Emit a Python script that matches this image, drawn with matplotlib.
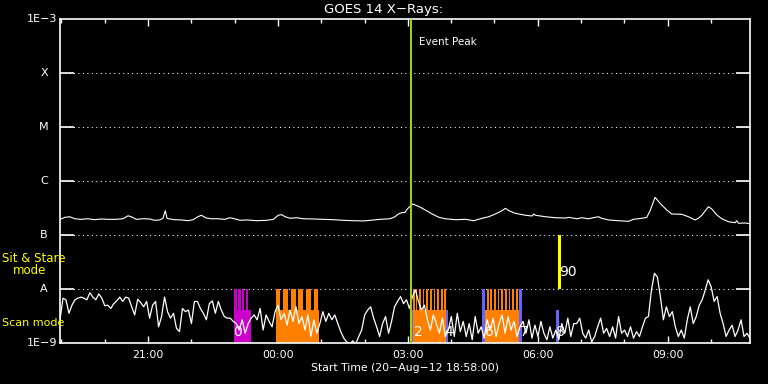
import numpy as np
import matplotlib
matplotlib.use('Agg')
import matplotlib.pyplot as plt
from matplotlib.ticker import NullLocator

# time axis: minutes after start (20-Aug-12 18:58:00)
t_end = 956
major_t = [122, 302, 482, 662, 842]
major_lbl = ['21:00', '00:00', '03:00', '06:00', '09:00']
minor_t = [2, 62, 182, 242, 362, 422, 542, 602, 722, 782, 902]

# GOES class levels
levels = [1e-8, 1e-7, 1e-6, 1e-5, 1e-4]
level_lbl = ['A', 'B', 'C', 'M', 'X']

# 1-8 A channel (units of 1e-7 W/m2)
long_t = [0, 6.5, 13.4, 20.4, 29.5, 38.8, 48.1, 57.2, 66.5, 78, 87.3, 94.2, 98.8, 105.7,
          115, 124.3, 131.2, 138.2, 142.7, 145.9, 148.3, 152, 158.9, 168.1, 177.4, 184.3,
          191.2, 195.8, 202.7, 209.7, 218.9, 228.2, 235.6, 244.9, 249.4, 258.7, 272.6,
          286.4, 295.6, 302.5, 307.2, 311.8, 318.7, 328, 337.1, 351, 364.9, 378.7, 392.6,
          406.4, 420.3, 429.6, 443.4, 457.3, 464.2, 468.8, 473.5, 478.1, 480.8, 485.4,
          488.7, 492.3, 499.3, 506.2, 515.5, 524.8, 533.9, 547.8, 561.6, 573.3, 584.8,
          594.1, 603.2, 612.5, 617.1, 621.8, 630.9, 644.8, 654.1, 656.4, 658.6, 672.5,
          686.3, 700.2, 704.9, 716.4, 722.9, 732.1, 741.3, 746, 750.6, 759.8, 773.6,
          787.5, 794.4, 806, 812.9, 817.6, 824.5, 831.4, 840.7, 847.6, 861.5, 870.6,
          879.9, 884.5, 889.2, 898.4, 903.1, 910, 916.9, 926.1, 935.3, 937.6, 939.9,
          949.2, 956.1]
long_flux = [1.94, 2.12, 2.18, 2.00, 1.95, 2.00, 1.92, 1.98, 1.95, 1.95, 2.00, 2.27, 2.18,
             1.95, 2.00, 1.98, 1.87, 1.90, 2.04, 2.82, 2.04, 1.98, 1.92, 1.90, 1.84, 1.92,
             2.18, 2.32, 2.06, 2.00, 2.00, 1.95, 2.09, 1.95, 1.87, 1.90, 1.84, 1.87, 1.95,
             2.32, 2.38, 2.18, 2.04, 2.09, 2.00, 1.98, 1.95, 1.92, 1.87, 1.84, 1.82, 1.87,
             1.95, 2.00, 2.18, 2.45, 2.59, 2.63, 2.99, 3.44, 3.75, 3.59, 3.26, 2.90, 2.45,
             2.13, 2.00, 1.92, 1.95, 1.84, 2.04, 2.18, 2.45, 2.82, 3.12, 2.82, 2.52, 2.32,
             2.25, 2.45, 2.32, 2.18, 2.09, 2.06, 2.12, 2.00, 2.09, 2.00, 2.12, 2.18, 2.04,
             1.90, 1.84, 1.79, 1.95, 2.04, 2.12, 2.82, 4.99, 3.86, 2.90, 2.45, 2.42, 2.18,
             1.90, 2.04, 2.32, 3.34, 3.03, 2.35, 2.00, 1.76, 1.69, 1.84, 1.65, 1.67, 1.62]

# 0.5-4 A channel, log10 flux, evenly sampled over the window
short_log = [
    -8.57, -8.17, -8.20, -8.45, -8.30, -8.20, -8.17, -8.15, -8.17, -8.20, -8.07, -8.15,
    -8.20, -8.09, -8.17, -8.31, -8.30, -8.36, -8.27, -8.22, -8.15, -8.23, -8.15, -8.17,
    -8.33, -8.48, -8.19, -8.25, -8.33, -8.23, -8.54, -8.30, -8.23, -8.70, -8.51, -8.15,
    -8.42, -8.54, -8.45, -8.73, -8.79, -8.36, -8.42, -8.39, -8.64, -8.23, -8.23, -8.36,
    -8.45, -8.57, -8.27, -8.22, -8.45, -8.23, -8.39, -8.51, -8.54, -8.54,
    -8.60, -8.64, -8.76, -8.57, -8.82, -8.64, -8.54, -8.48, -8.57, -8.36, -8.76, -8.48,
    -8.60, -8.70, -8.42, -8.30, -8.57, -8.45, -8.67, -8.39, -8.60, -8.33, -8.64, -8.51,
    -8.76, -8.48, -8.88, -8.57, -8.82, -8.64, -8.42, -8.60, -8.45, -8.57, -8.48, -8.64,
    -8.79, -8.91, -8.98, -9.02, -8.96, -9.02, -8.88, -8.76, -8.48, -8.39, -8.33, -8.54,
    -8.70, -8.88, -8.64, -8.51, -8.82, -8.60, -8.33, -8.23, -8.14,
    -8.27, -8.20, -8.36, -8.14, -8.02, -8.23, -8.39, -8.30, -8.57, -8.76, -8.48, -8.64,
    -8.82, -8.54, -8.88, -8.76, -8.51, -8.88, -8.45, -8.79, -8.60, -8.88, -8.64, -8.94,
    -8.51, -8.82, -8.70, -8.91, -8.57, -8.76, -8.54, -8.88, -8.64, -8.48, -8.82, -8.51,
    -8.76, -8.60, -8.88, -8.70, -8.60, -8.82, -8.57, -8.91, -8.67, -8.88, -8.60, -8.82,
    -8.94, -8.70, -8.91, -8.76, -8.94, -8.64, -8.82, -8.54, -8.88, -8.64,
    -8.64, -8.54, -8.82, -8.91, -8.76, -8.98, -8.88, -8.70, -8.54, -8.82, -8.73, -8.88,
    -8.70, -8.91, -8.51, -8.82, -8.76, -8.88, -8.70, -8.91, -8.79, -8.88, -8.70, -8.54,
    -8.51, -8.02, -7.71, -7.78, -8.14, -8.57, -8.33, -8.51, -8.42, -8.70, -8.88, -8.76,
    -8.91, -8.57, -8.33, -8.64, -8.51, -8.30, -8.20, -8.02, -7.83, -7.96, -8.23, -8.14,
    -8.45, -8.64, -8.88, -8.76, -8.67, -8.88, -8.76, -8.57, -8.88, -8.82, -8.91]

# observing-mode bars (minutes)
magenta_spikes = [241, 246.5, 252, 257.5]
magenta_block = (241, 264.5)
orange1_spikes = [299, 309.4, 320.1, 330.2, 340.9, 351.5]
orange1_block = (299, 359.3)
orange2_spikes = [489.5, 492.6, 497.5, 502.6, 507.6, 512.7, 517.8, 522.8, 528, 532.3]
orange2_block = (489.5, 534.5)
orange3_spikes = [591.3, 596.3, 601.4, 606.5, 611.4, 616.6, 621.7, 626.7, 631.8]
orange3_block = (589, 636)
blue_low = [(487.8, 489.5), (534.5, 537.6), (687.3, 691.5)]
blue_full = [(584.3, 589), (636, 640.2)]
yellow_bar = (690, 694.4)

event_t = 486
mark_lbl = ['0', '2', '4', '6', '7', '8']
mark_t = [246.5, 496, 539, 594.5, 643, 694]

ORANGE = '#ff8000'
MAGENTA = '#cc00cc'
BLUE = '#6464ff'
FLOOR = 1e-9
SPIKE_TOP = 1e-8
BLOCK_TOP = 4.1e-9

fig = plt.figure(figsize=(7.68, 3.84), dpi=100, facecolor='black')
ax = fig.add_axes([60/768, 41/384, 690/768, 324/384])
ax.set_facecolor('black')
ax.set_yscale('log')
ax.set_ylim(1e-9, 1e-3)
ax.set_xlim(0, t_end)

for lev in levels:
    ax.axhline(lev, color='white', lw=0.75, ls=(0, (1, 3.3)), zorder=1)


def rect(t0, t1, top, color):
    ax.bar(t0, top - FLOOR, bottom=FLOOR, width=t1 - t0, align='edge',
           color=color, linewidth=0, zorder=2)


rect(*magenta_block, BLOCK_TOP, MAGENTA)
for s in magenta_spikes:
    rect(s, s + 3.6, SPIKE_TOP, MAGENTA)
rect(*orange1_block, BLOCK_TOP, ORANGE)
for s in orange1_spikes:
    rect(s, s + 6.5, SPIKE_TOP, ORANGE)
rect(*orange2_block, BLOCK_TOP, ORANGE)
for s in orange2_spikes:
    rect(s, s + 2.4, SPIKE_TOP, ORANGE)
rect(*orange3_block, BLOCK_TOP, ORANGE)
for s in orange3_spikes:
    rect(s, s + 2.4, SPIKE_TOP, ORANGE)
for a, b in blue_low:
    rect(a, b, BLOCK_TOP, BLUE)
for a, b in blue_full:
    rect(a, b, SPIKE_TOP, BLUE)
ax.bar(yellow_bar[0], 1e-7 - 1e-8, bottom=1e-8, width=yellow_bar[1] - yellow_bar[0],
       align='edge', color='#ffff00', linewidth=0, zorder=2)

ax.plot(long_t, np.array(long_flux) * 1e-7, color='white', lw=0.8, zorder=3)
short_t = np.linspace(0, t_end, len(short_log))
ax.plot(short_t, 10 ** np.array(short_log), color='white', lw=0.9, zorder=3)

for s, t in zip(mark_lbl, mark_t):
    ax.text(t, 1.6e-9, s, color='white', fontsize=10, ha='center', va='center', zorder=4)
ax.text(yellow_bar[0] + 1, 2.07e-8, '90', color='white', fontsize=10, ha='left',
        va='center', zorder=4)

ax.axvline(event_t, color='#a0d010', lw=1.5, zorder=5)
ax.text(event_t + 12, 10 ** -3.43, 'Event Peak', color='white', fontsize=7.5,
        ha='left', va='center')

ax.set_xticks(major_t)
ax.set_xticklabels(major_lbl)
ax.set_xticks(minor_t, minor=True)
ax.tick_params(axis='x', which='major', direction='in', length=5, width=1,
               top=True, colors='white', labelsize=7.8, pad=5)
ax.tick_params(axis='x', which='minor', direction='in', length=3, width=1,
               top=True, colors='white')
ax.set_yticks(levels)
ax.yaxis.set_minor_locator(NullLocator())
ax.set_yticklabels([])
ax.tick_params(axis='y', direction='in', length=10, width=1.2, right=True, colors='white')
for sp in ax.spines.values():
    sp.set_color('white')
    sp.set_linewidth(1.2)

# y labels
for lev, lab in zip(levels, level_lbl):
    ypx = 343 - (np.log10(lev) + 9) * 54
    fig.text(44/768, 1 - ypx/384, lab, color='white', fontsize=8, ha='center', va='center')
fig.text(57/768, 1 - 19/384, '1E\u22123', color='white', fontsize=8, ha='right', va='center')
fig.text(57/768, 1 - 343/384, '1E\u22129', color='white', fontsize=8, ha='right', va='center')

fig.text(2/768, 1 - 258.5/384, 'Sit & Stare', color='#ffff00', fontsize=8.5, ha='left', va='center')
fig.text(13/768, 1 - 271/384, 'mode', color='#ffff00', fontsize=8.5, ha='left', va='center')
fig.text(2/768, 1 - 323.5/384, 'Scan mode', color='#ffff00', fontsize=8, ha='left', va='center')

fig.text(0.5, 1 - 9/384, 'GOES 14 X\u2212Rays:', color='white', fontsize=9.5, ha='center', va='center')
fig.text(405/768, 1 - 368/384, 'Start Time (20\u2212Aug\u221212 18:58:00)', color='white',
         fontsize=7.8, ha='center', va='center')

fig.savefig('out.png', dpi=100, facecolor='black')
